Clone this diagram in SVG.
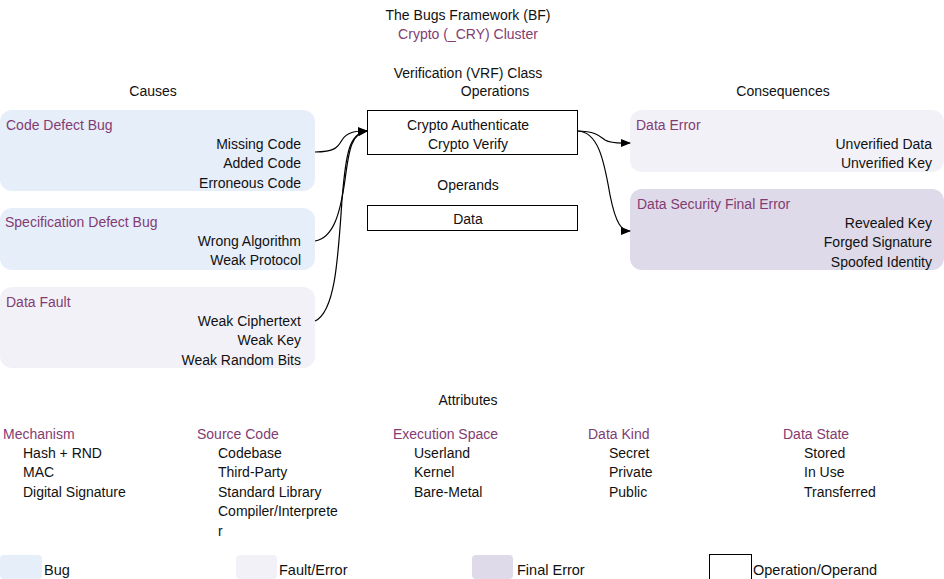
<svg xmlns="http://www.w3.org/2000/svg" width="944" height="579" viewBox="0 0 944 579">
<defs>
<marker id="arr" markerWidth="10" markerHeight="8" refX="9" refY="4" orient="auto" markerUnits="userSpaceOnUse">
<path d="M0,0 L10,4 L0,8 z" fill="#000"/>
</marker>
<style>
text{font-family:"Liberation Sans",Arial,sans-serif;font-size:14px;fill:#111}
.p{fill:#833C73}
.c{text-anchor:middle}
.r{text-anchor:end}
.bug{fill:#E6EEFA}
.fault{fill:#F3F1F8}
.final{fill:#DEDAE9}
.op{fill:#fff;stroke:#000;stroke-width:1}
.con{fill:none;stroke:#000;stroke-width:1.2}
.lg{font-size:14.5px}
</style>
</defs>
<rect width="944" height="579" fill="#fff"/>
<text class="c" x="468" y="20">The Bugs Framework (BF)</text>
<text class="c p" x="468" y="39">Crypto (_CRY) Cluster</text>
<text class="c" x="468" y="78">Verification (VRF) Class</text>
<text class="c" x="495" y="96">Operations</text>
<text class="c" x="153" y="96">Causes</text>
<text class="c" x="783" y="96">Consequences</text>

<g id="code-defect-bug">
<rect class="bug" x="0" y="110" width="315" height="81" rx="12"/>
<text class="p" x="6" y="130">Code Defect Bug</text>
<text class="r" x="301" y="149">Missing Code</text>
<text class="r" x="301" y="168">Added Code</text>
<text class="r" x="301" y="188">Erroneous Code</text>
</g>
<g id="spec-defect-bug">
<rect class="bug" x="0" y="208" width="315" height="62" rx="12"/>
<text class="p" x="5" y="227">Specification Defect Bug</text>
<text class="r" x="301" y="246">Wrong Algorithm</text>
<text class="r" x="301" y="265">Weak Protocol</text>
</g>
<g id="data-fault">
<rect class="fault" x="0" y="287" width="315" height="81" rx="12"/>
<text class="p" x="6" y="307">Data Fault</text>
<text class="r" x="301" y="326">Weak Ciphertext</text>
<text class="r" x="301" y="345">Weak Key</text>
<text class="r" x="301" y="365">Weak Random Bits</text>
</g>
<g id="operations">
<rect class="op" x="367.5" y="110.5" width="210" height="44"/>
<text class="c" x="468" y="130">Crypto Authenticate</text>
<text class="c" x="468" y="149">Crypto Verify</text>
</g>
<text class="c" x="468" y="190">Operands</text>
<g id="operands">
<rect class="op" x="367.5" y="205.5" width="210" height="25"/>
<text class="c" x="468" y="224">Data</text>
</g>
<g id="data-error">
<rect class="fault" x="630" y="110" width="314" height="62" rx="12"/>
<text class="p" x="636" y="130">Data Error</text>
<text class="r" x="932" y="149">Unverified Data</text>
<text class="r" x="932" y="168">Unverified Key</text>
</g>
<g id="final-error">
<rect class="final" x="630" y="189" width="314" height="81" rx="12"/>
<text class="p" x="637" y="209">Data Security Final Error</text>
<text class="r" x="932" y="228">Revealed Key</text>
<text class="r" x="932" y="247">Forged Signature</text>
<text class="r" x="932" y="267">Spoofed Identity</text>
</g>

<g id="connectors">
<path class="con" d="M315,152 C335,152 338,147 342,140 C347,132 355,131 367,131" marker-end="url(#arr)"/>
<path class="con" d="M315,241 C333,238 340,215 345,180 C349,148 352,133 367,131" marker-end="url(#arr)"/>
<path class="con" d="M315,321 C335,312 338,260 342,200 C346,150 350,133 367,131" marker-end="url(#arr)"/>
<path class="con" d="M577,131 C595,131 600,136 605,140 C612,144 620,143 630,143" marker-end="url(#arr)"/>
<path class="con" d="M577,131 C598,131 604,160 610,195 C616,225 622,231 630,231" marker-end="url(#arr)"/>
</g>

<text class="c" x="468" y="405">Attributes</text>
<g id="attributes">
<text class="p" x="3" y="439">Mechanism</text>
<text x="23" y="458">Hash + RND</text>
<text x="23" y="477">MAC</text>
<text x="23" y="497">Digital Signature</text>
<text class="p" x="197" y="439">Source Code</text>
<text x="218" y="458">Codebase</text>
<text x="218" y="477">Third-Party</text>
<text x="218" y="497">Standard Library</text>
<text x="218" y="516">Compiler/Interprete</text>
<text x="218" y="536">r</text>
<text class="p" x="393" y="439">Execution Space</text>
<text x="414" y="458">Userland</text>
<text x="414" y="477">Kernel</text>
<text x="414" y="497">Bare-Metal</text>
<text class="p" x="588" y="439">Data Kind</text>
<text x="609" y="458">Secret</text>
<text x="609" y="477">Private</text>
<text x="609" y="497">Public</text>
<text class="p" x="783" y="439">Data State</text>
<text x="804" y="458">Stored</text>
<text x="804" y="477">In Use</text>
<text x="804" y="497">Transferred</text>
</g>

<g id="legend">
<rect class="bug" x="0" y="555" width="42" height="24" rx="4"/>
<text class="lg" x="44" y="575">Bug</text>
<rect class="fault" x="236" y="555" width="41" height="24" rx="4"/>
<text class="lg" x="279" y="575">Fault/Error</text>
<rect class="final" x="472" y="555" width="41" height="24" rx="4"/>
<text class="lg" x="517" y="575">Final Error</text>
<rect class="op" x="709.5" y="554.5" width="42" height="26"/>
<text class="lg" x="753" y="575">Operation/Operand</text>
</g>
</svg>
